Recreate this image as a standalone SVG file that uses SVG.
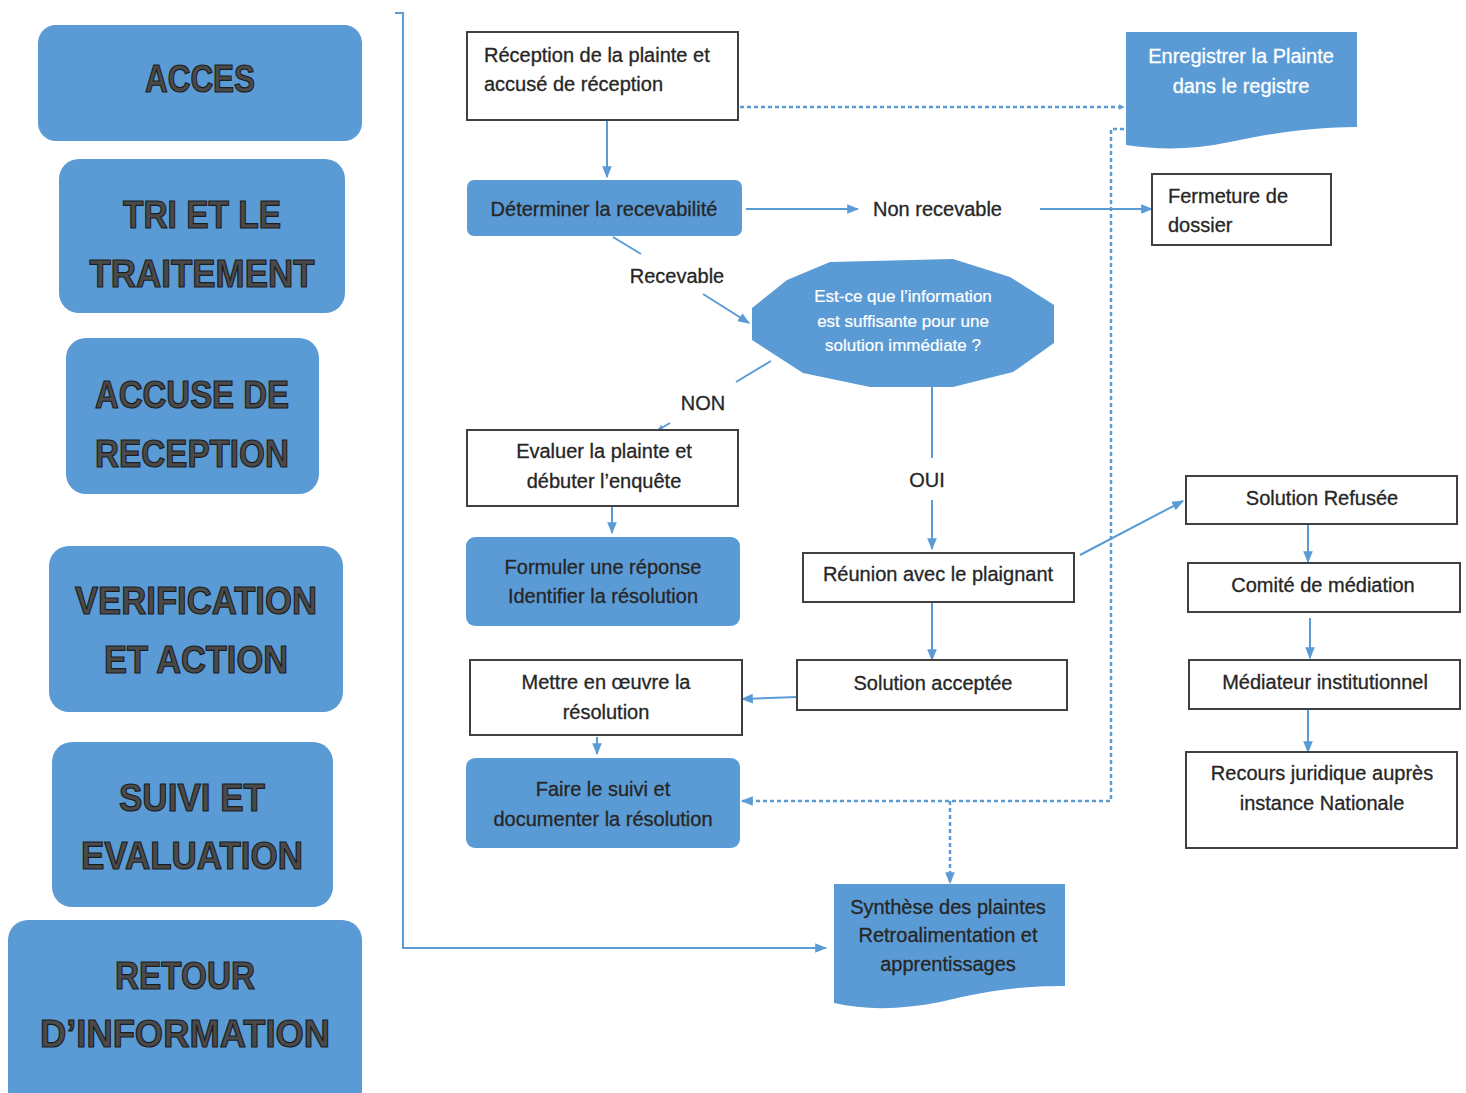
<svg xmlns="http://www.w3.org/2000/svg" width="1466" height="1093" viewBox="0 0 1466 1093">
<defs>
<style>
.stage{fill:#5b9bd5;}
.stxt{font-family:"Liberation Sans",Arial,sans-serif;font-weight:bold;font-size:38px;fill:#4a4a4a;stroke:#1c1c1c;stroke-width:1.2;text-anchor:middle;}
.box{fill:#ffffff;stroke:#404040;stroke-width:2;}
.bbox{fill:#5b9bd5;}
.t{font-family:"Liberation Sans",Arial,sans-serif;font-size:20px;fill:#262626;stroke:#262626;stroke-width:0.3;}
.c{text-anchor:middle;}
.w{fill:#ffffff;stroke:#ffffff;}
.sm{font-size:17px;stroke-width:0.2;}
.con{fill:none;stroke:#5b9bd5;stroke-width:2;}
.dash{fill:none;stroke:#5b9bd5;stroke-width:2.5;stroke-dasharray:4 3;}
</style>
<marker id="ah" viewBox="0 0 10 10" refX="9" refY="5" markerWidth="6" markerHeight="6" orient="auto" markerUnits="userSpaceOnUse">
<path d="M0,0 L10,5 L0,10 z" fill="#5b9bd5"/>
</marker>
<marker id="ahs" viewBox="0 0 10 10" refX="9" refY="5" markerWidth="12" markerHeight="12" orient="auto" markerUnits="userSpaceOnUse">
<path d="M0,1 L10,5 L0,9 z" fill="#5b9bd5"/>
</marker>
</defs>
<rect width="1466" height="1093" fill="#ffffff"/>

<g id="stage-acces"><rect class="stage" x="38" y="25" width="324" height="116" rx="18"/><text class="stxt" x="200" y="92" textLength="110" lengthAdjust="spacingAndGlyphs">ACCES</text></g>
<g id="stage-tri"><rect class="stage" x="59" y="159" width="286" height="154" rx="20"/><text class="stxt" x="202" y="228" textLength="158" lengthAdjust="spacingAndGlyphs">TRI ET LE</text><text class="stxt" x="202" y="287" textLength="225" lengthAdjust="spacingAndGlyphs">TRAITEMENT</text></g>
<g id="stage-accuse"><rect class="stage" x="66" y="338" width="253" height="156" rx="20"/><text class="stxt" x="192" y="408" textLength="194" lengthAdjust="spacingAndGlyphs">ACCUSE DE</text><text class="stxt" x="192" y="467" textLength="194" lengthAdjust="spacingAndGlyphs">RECEPTION</text></g>
<g id="stage-verif"><rect class="stage" x="49" y="546" width="294" height="166" rx="20"/><text class="stxt" x="196" y="614" textLength="242" lengthAdjust="spacingAndGlyphs">VERIFICATION</text><text class="stxt" x="196" y="673" textLength="184" lengthAdjust="spacingAndGlyphs">ET ACTION</text></g>
<g id="stage-suivi"><rect class="stage" x="52" y="742" width="281" height="165" rx="20"/><text class="stxt" x="192" y="811" textLength="146" lengthAdjust="spacingAndGlyphs">SUIVI ET</text><text class="stxt" x="192" y="869" textLength="222" lengthAdjust="spacingAndGlyphs">EVALUATION</text></g>
<g id="stage-retour"><rect class="stage" x="8" y="920" width="354" height="190" rx="20"/><text class="stxt" x="185" y="989" textLength="140" lengthAdjust="spacingAndGlyphs">RETOUR</text><text class="stxt" x="185" y="1047" textLength="290" lengthAdjust="spacingAndGlyphs">D’INFORMATION</text></g>

<g id="connectors">
<path class="con" d="M395,13 L403,13 L403,948 L826,948" marker-end="url(#ahs)"/>
<path class="dash" d="M740,107 L1124,107" marker-end="url(#ah)"/>
<path class="con" d="M607,121 L607,177" marker-end="url(#ahs)"/>
<path class="con" d="M746,209 L858,209" marker-end="url(#ahs)"/>
<path class="con" d="M1040,209 L1152,209" marker-end="url(#ahs)"/>
<path class="con" d="M613,237 L641,254"/>
<path class="con" d="M703,294 L749,323" marker-end="url(#ahs)"/>
<path class="con" d="M771,361 L736,382"/>
<path class="con" d="M670,423 L658,430" marker-end="url(#ah)"/>
<path class="con" d="M612,507 L612,533" marker-end="url(#ahs)"/>
<path class="con" d="M932,387 L932,458"/>
<path class="con" d="M932,500 L932,549" marker-end="url(#ahs)"/>
<path class="con" d="M932,603 L932,660" marker-end="url(#ahs)"/>
<path class="con" d="M797,697 L742,699" marker-end="url(#ahs)"/>
<path class="con" d="M597,737 L597,754" marker-end="url(#ahs)"/>
<path class="con" d="M1080,555 L1183,501" marker-end="url(#ahs)"/>
<path class="con" d="M1308,525 L1308,562" marker-end="url(#ahs)"/>
<path class="con" d="M1310,618 L1310,658" marker-end="url(#ahs)"/>
<path class="con" d="M1308,710 L1308,752" marker-end="url(#ahs)"/>
<path class="dash" d="M1124,129 L1111,129 L1111,801 L742,801" marker-end="url(#ahs)"/>
<path class="dash" d="M950,801 L950,883" marker-end="url(#ahs)"/>
</g>

<g id="n-reception"><rect class="box" x="467" y="32" width="271" height="88"/><text class="t" x="484" y="62">Réception de la plainte et</text><text class="t" x="484" y="91">accusé de réception</text></g>
<g id="n-enregistrer"><path class="bbox" d="M1126,32 L1357,32 L1357,127 C1300,128 1270,134 1230,142 C1190,150 1160,150 1126,145 Z"/><text class="t c w" x="1241" y="63">Enregistrer la Plainte</text><text class="t c w" x="1241" y="93">dans le registre</text></g>
<g id="n-determiner"><rect class="bbox" x="467" y="180" width="275" height="56" rx="7"/><text class="t c" x="604" y="216">Déterminer la recevabilité</text></g>
<g id="n-nonrecevable"><text class="t" x="873" y="216">Non recevable</text></g>
<g id="n-fermeture"><rect class="box" x="1152" y="174" width="179" height="71"/><text class="t" x="1168" y="203">Fermeture de</text><text class="t" x="1168" y="232">dossier</text></g>
<g id="n-recevable"><text class="t c" x="677" y="283">Recevable</text></g>
<g id="n-decision"><path class="bbox" d="M752,308 L787,280 L830,262 L953,259 L1010,277 L1054,305 L1054,343 L1013,372 L953,387 L870,387 L803,373 L752,340 Z"/><text class="t c w sm" x="903" y="302">Est-ce que l’information</text><text class="t c w sm" x="903" y="327">est suffisante pour une</text><text class="t c w sm" x="903" y="351">solution immédiate ?</text></g>
<g id="n-non"><text class="t c" x="703" y="410">NON</text></g>
<g id="n-oui"><text class="t c" x="927" y="487">OUI</text></g>
<g id="n-evaluer"><rect class="box" x="467" y="430" width="271" height="76"/><text class="t c" x="604" y="458">Evaluer la plainte et</text><text class="t c" x="604" y="488">débuter l’enquête</text></g>
<g id="n-formuler"><rect class="bbox" x="466" y="537" width="274" height="89" rx="9"/><text class="t c" x="603" y="574">Formuler une réponse</text><text class="t c" x="603" y="603">Identifier la résolution</text></g>
<g id="n-mettre"><rect class="box" x="470" y="660" width="272" height="75"/><text class="t c" x="606" y="689">Mettre en œuvre la</text><text class="t c" x="606" y="719">résolution</text></g>
<g id="n-suivi"><rect class="bbox" x="466" y="758" width="274" height="90" rx="9"/><text class="t c" x="603" y="796">Faire le suivi et</text><text class="t c" x="603" y="826">documenter la résolution</text></g>
<g id="n-reunion"><rect class="box" x="803" y="553" width="271" height="49"/><text class="t c" x="938" y="581">Réunion avec le plaignant</text></g>
<g id="n-acceptee"><rect class="box" x="797" y="660" width="270" height="50"/><text class="t c" x="933" y="690">Solution acceptée</text></g>
<g id="n-refusee"><rect class="box" x="1186" y="476" width="271" height="48"/><text class="t c" x="1322" y="505">Solution Refusée</text></g>
<g id="n-comite"><rect class="box" x="1188" y="563" width="272" height="49"/><text class="t c" x="1323" y="592">Comité de médiation</text></g>
<g id="n-mediateur"><rect class="box" x="1189" y="660" width="271" height="49"/><text class="t c" x="1325" y="689">Médiateur institutionnel</text></g>
<g id="n-recours"><rect class="box" x="1186" y="752" width="271" height="96"/><text class="t c" x="1322" y="780">Recours juridique auprès</text><text class="t c" x="1322" y="810">instance Nationale</text></g>
<g id="n-synthese"><path class="bbox" d="M834,884 L1065,884 L1065,986 C1010,986 980,993 940,1002 C900,1010 865,1010 834,1003 Z"/><text class="t c" x="948" y="914">Synthèse des plaintes</text><text class="t c" x="948" y="942">Retroalimentation et</text><text class="t c" x="948" y="971">apprentissages</text></g>
</svg>
